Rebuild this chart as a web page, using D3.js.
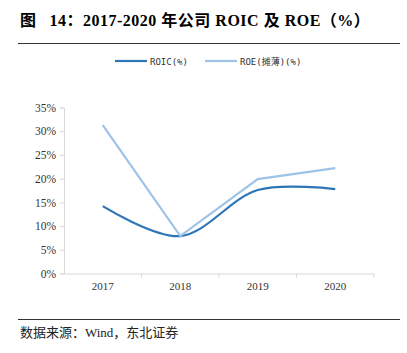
<!DOCTYPE html>
<html>
<head>
<meta charset="utf-8">
<script src="https://cdn.jsdelivr.net/npm/d3@7"></script>
<style>
  body { margin: 0; background: #fff; }
  svg { display: block; }
</style>
</head>
<body>
<div id="chart"></div>
<script>
var years = ["2017", "2018", "2019", "2020"];
var roic = [14.2, 7.9, 17.6, 17.8];
var roe = [31.3, 7.9, 19.9, 22.2];
var yTicks = [0, 5, 10, 15, 20, 25, 30, 35];

var W = 407, H = 353;
var margin = { top: 107, right: 33, bottom: 80, left: 64 };

var svg = d3.select("#chart").append("svg")
    .attr("width", W)
    .attr("height", H);

// title
var title = svg.append("text")
    .attr("x", 20)
    .attr("y", 26)
    .style("font-family", "'Liberation Serif', 'Noto Sans CJK SC', serif")
    .style("font-weight", "bold")
    .style("font-size", "16px")
    .style("letter-spacing", "0.5px")
    .attr("fill", "#000");
title.append("tspan").text("图");
title.append("tspan").attr("dx", 13).text("14：2017-2020 年公司 ROIC 及 ROE（%）");

svg.append("line")
    .attr("x1", 18).attr("x2", 400)
    .attr("y1", 43.5).attr("y2", 43.5)
    .attr("stroke", "#333").attr("stroke-width", 1);

// footer
svg.append("line")
    .attr("x1", 18).attr("x2", 400)
    .attr("y1", 319.5).attr("y2", 319.5)
    .attr("stroke", "#333").attr("stroke-width", 1);

svg.append("text")
    .attr("x", 20)
    .attr("y", 337)
    .style("font-family", "'Liberation Serif', 'Noto Sans CJK SC', serif")
    .style("font-size", "13px")
    .attr("fill", "#222")
    .text("数据来源：Wind，东北证券");

var width = W - margin.left - margin.right;

var x = d3.scaleBand()
    .domain(years)
    .range([margin.left, margin.left + width]);

var y = d3.scaleLinear()
    .domain([0, 35])
    .range([273.5, 107.5]);

// y axis
var yAxis = svg.append("g")
    .attr("transform", "translate(" + margin.left + ",0)")
    .call(d3.axisLeft(y).tickValues(yTicks).tickSize(4).tickPadding(4)
        .tickFormat(function(d) { return d + "%"; }));
yAxis.select(".domain").attr("stroke", "#d9d9d9");
yAxis.selectAll(".tick line").attr("stroke", "#d9d9d9");
yAxis.selectAll("text")
    .style("font-family", "'Liberation Serif', serif")
    .style("font-size", "11.5px")
    .attr("fill", "#333");

// x axis
var xAxis = svg.append("g")
    .attr("transform", "translate(0," + y(0) + ")")
    .call(d3.axisBottom(x).tickSize(0).tickPadding(9));
xAxis.select(".domain").attr("stroke", "#d9d9d9");
xAxis.selectAll("text")
    .style("font-family", "'Liberation Serif', serif")
    .style("font-size", "11px")
    .attr("fill", "#333");
// tick marks on band boundaries
xAxis.selectAll(".bound")
    .data(years)
    .enter().append("line")
    .attr("x1", function(d) { return x(d) + x.bandwidth(); })
    .attr("x2", function(d) { return x(d) + x.bandwidth(); })
    .attr("y1", 0).attr("y2", 4)
    .attr("stroke", "#d9d9d9");

var cx = function(d, i) { return x(years[i]) + x.bandwidth() / 2; };

var roeLine = d3.line()
    .x(cx)
    .y(function(d) { return y(d); });

var roicLine = d3.line()
    .x(cx)
    .y(function(d) { return y(d); })
    .curve(d3.curveCatmullRom.alpha(0.5));

svg.append("path")
    .datum(roic)
    .attr("fill", "none")
    .attr("stroke", "#2e75b6")
    .attr("stroke-width", 2.2)
    .attr("d", roicLine);

svg.append("path")
    .datum(roe)
    .attr("fill", "none")
    .attr("stroke", "#9dc3e6")
    .attr("stroke-width", 2.2)
    .attr("d", roeLine);

// legend
var legend = [
    { name: "ROIC(%)", color: "#2e75b6", x: 115 },
    { name: "ROE(摊薄)(%)", color: "#9dc3e6", x: 205 }
];
var lg = svg.selectAll(".lg").data(legend).enter().append("g")
    .attr("transform", function(d) { return "translate(" + d.x + ",61)"; });
lg.append("line")
    .attr("x1", 0).attr("x2", 32)
    .attr("stroke", function(d) { return d.color; })
    .attr("stroke-width", 2.2);
lg.append("text")
    .attr("x", 35)
    .attr("y", 3.5)
    .style("font-family", "'DejaVu Sans Mono', 'Noto Sans CJK SC', monospace")
    .style("font-size", "9px")
    .attr("fill", "#333")
    .text(function(d) { return d.name; });
</script>
</body>
</html>
